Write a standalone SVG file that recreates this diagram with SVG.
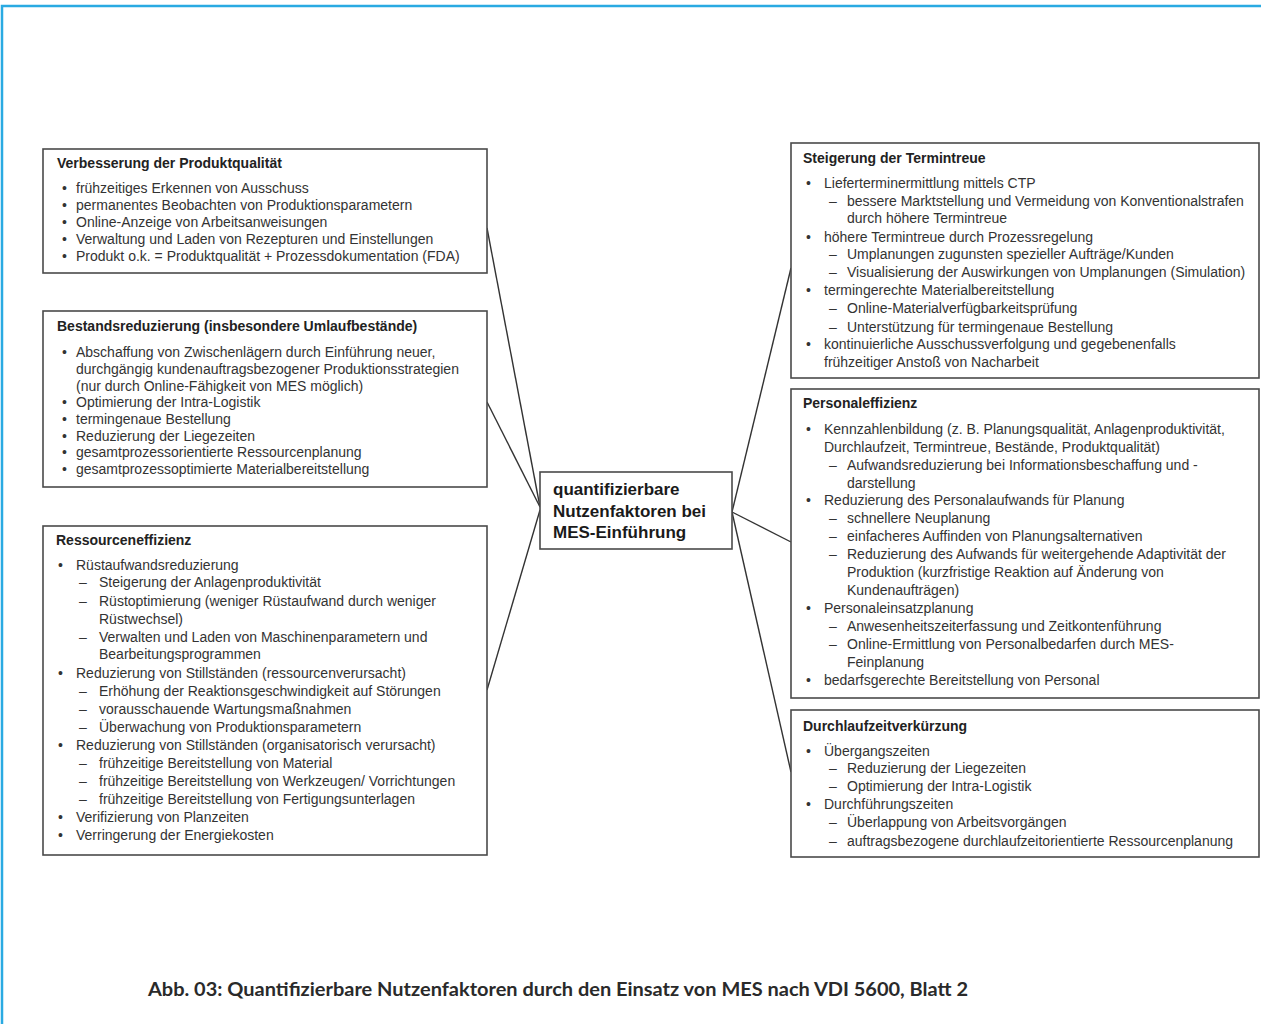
<svg xmlns="http://www.w3.org/2000/svg" width="1261" height="1024" viewBox="0 0 1261 1024">
  <style>
    .box { fill: #ffffff; stroke: #4a4a4a; stroke-width: 1.6; }
    .hd { font-family: "Liberation Sans", Arial, sans-serif; font-size: 14px; font-weight: bold; fill: #222222; }
    .t { font-family: "Liberation Sans", Arial, sans-serif; font-size: 14px; fill: #333333; }
    .ctr { font-family: "Liberation Sans", Arial, sans-serif; font-size: 17px; font-weight: bold; fill: #1a1a1a; }
    .cap { font-family: Lato, "Open Sans", sans-serif; font-size: 18px; font-weight: bold; fill: #2a2a2a; }
    .conn line { stroke: #333333; stroke-width: 1.4; }
  </style>

  <rect width="1261" height="1024" fill="#ffffff"/>
  <!-- page frame -->
  <path d="M2 1024 V6 H1261" fill="none" stroke="#2aaae2" stroke-width="2.5"/>

  <!-- connectors -->
  <g id="connectors" class="conn">
    <line x1="487" y1="228" x2="540" y2="507"/>
    <line x1="487" y1="402" x2="540" y2="507"/>
    <line x1="487" y1="690" x2="540" y2="510"/>
    <line x1="791" y1="268" x2="732" y2="512"/>
    <line x1="791" y1="542" x2="732" y2="512"/>
    <line x1="791" y1="772" x2="732" y2="512"/>
  </g>

  <!-- central node -->
  <g id="center">
    <rect class="box" x="540" y="472" width="192" height="77"/>
    <text class="ctr" x="553" y="495">quantifizierbare</text>
    <text class="ctr" x="553" y="517">Nutzenfaktoren bei</text>
    <text class="ctr" x="553" y="538">MES-Einführung</text>
  </g>

  <!-- left column -->
  <g id="produktqualitaet">
    <rect class="box" x="43" y="149" width="444" height="124"/>
    <text class="hd" x="57" y="168">Verbesserung der Produktqualität</text>
    <text class="t" x="62" y="193">•</text><text class="t" x="76" y="193">frühzeitiges Erkennen von Ausschuss</text>
    <text class="t" x="62" y="210">•</text><text class="t" x="76" y="210">permanentes Beobachten von Produktionsparametern</text>
    <text class="t" x="62" y="227">•</text><text class="t" x="76" y="227">Online-Anzeige von Arbeitsanweisungen</text>
    <text class="t" x="62" y="244">•</text><text class="t" x="76" y="244">Verwaltung und Laden von Rezepturen und Einstellungen</text>
    <text class="t" x="62" y="261">•</text><text class="t" x="76" y="261">Produkt o.k. = Produktqualität + Prozessdokumentation (FDA)</text>
  </g>

  <g id="bestandsreduzierung">
    <rect class="box" x="43" y="311" width="444" height="176"/>
    <text class="hd" x="57" y="331">Bestandsreduzierung (insbesondere Umlaufbestände)</text>
    <text class="t" x="62" y="357">•</text><text class="t" x="76" y="357">Abschaffung von Zwischenlägern durch Einführung neuer,</text>
    <text class="t" x="76" y="374">durchgängig kundenauftragsbezogener Produktionsstrategien</text>
    <text class="t" x="76" y="391">(nur durch Online-Fähigkeit von MES möglich)</text>
    <text class="t" x="62" y="407">•</text><text class="t" x="76" y="407">Optimierung der Intra-Logistik</text>
    <text class="t" x="62" y="424">•</text><text class="t" x="76" y="424">termingenaue Bestellung</text>
    <text class="t" x="62" y="441">•</text><text class="t" x="76" y="441">Reduzierung der Liegezeiten</text>
    <text class="t" x="62" y="457">•</text><text class="t" x="76" y="457">gesamtprozessorientierte Ressourcenplanung</text>
    <text class="t" x="62" y="474">•</text><text class="t" x="76" y="474">gesamtprozessoptimierte Materialbereitstellung</text>
  </g>

  <g id="ressourceneffizienz">
    <rect class="box" x="43" y="526" width="444" height="329"/>
    <text class="hd" x="56" y="545">Ressourceneffizienz</text>
    <text class="t" x="58" y="570">•</text><text class="t" x="76" y="570">Rüstaufwandsreduzierung</text>
    <text class="t" x="79" y="587">–</text><text class="t" x="99" y="587">Steigerung der Anlagenproduktivität</text>
    <text class="t" x="79" y="606">–</text><text class="t" x="99" y="606">Rüstoptimierung (weniger Rüstaufwand durch weniger</text>
    <text class="t" x="99" y="624">Rüstwechsel)</text>
    <text class="t" x="79" y="642">–</text><text class="t" x="99" y="642">Verwalten und Laden von Maschinenparametern und</text>
    <text class="t" x="99" y="659">Bearbeitungsprogrammen</text>
    <text class="t" x="58" y="678">•</text><text class="t" x="76" y="678">Reduzierung von Stillständen (ressourcenverursacht)</text>
    <text class="t" x="79" y="696">–</text><text class="t" x="99" y="696">Erhöhung der Reaktionsgeschwindigkeit auf Störungen</text>
    <text class="t" x="79" y="714">–</text><text class="t" x="99" y="714">vorausschauende Wartungsmaßnahmen</text>
    <text class="t" x="79" y="732">–</text><text class="t" x="99" y="732">Überwachung von Produktionsparametern</text>
    <text class="t" x="58" y="750">•</text><text class="t" x="76" y="750">Reduzierung von Stillständen (organisatorisch verursacht)</text>
    <text class="t" x="79" y="768">–</text><text class="t" x="99" y="768">frühzeitige Bereitstellung von Material</text>
    <text class="t" x="79" y="786">–</text><text class="t" x="99" y="786">frühzeitige Bereitstellung von Werkzeugen/ Vorrichtungen</text>
    <text class="t" x="79" y="804">–</text><text class="t" x="99" y="804">frühzeitige Bereitstellung von Fertigungsunterlagen</text>
    <text class="t" x="58" y="822">•</text><text class="t" x="76" y="822">Verifizierung von Planzeiten</text>
    <text class="t" x="58" y="840">•</text><text class="t" x="76" y="840">Verringerung der Energiekosten</text>
  </g>

  <!-- right column -->
  <g id="termintreue">
    <rect class="box" x="791" y="143" width="468" height="235"/>
    <text class="hd" x="803" y="163">Steigerung der Termintreue</text>
    <text class="t" x="806" y="188">•</text><text class="t" x="824" y="188">Lieferterminermittlung mittels CTP</text>
    <text class="t" x="829" y="206">–</text><text class="t" x="847" y="206">bessere Marktstellung und Vermeidung von Konventionalstrafen</text>
    <text class="t" x="847" y="223">durch höhere Termintreue</text>
    <text class="t" x="806" y="242">•</text><text class="t" x="824" y="242">höhere Termintreue durch Prozessregelung</text>
    <text class="t" x="829" y="259">–</text><text class="t" x="847" y="259">Umplanungen zugunsten spezieller Aufträge/Kunden</text>
    <text class="t" x="829" y="277">–</text><text class="t" x="847" y="277">Visualisierung der Auswirkungen von Umplanungen (Simulation)</text>
    <text class="t" x="806" y="295">•</text><text class="t" x="824" y="295">termingerechte Materialbereitstellung</text>
    <text class="t" x="829" y="313">–</text><text class="t" x="847" y="313">Online-Materialverfügbarkeitsprüfung</text>
    <text class="t" x="829" y="332">–</text><text class="t" x="847" y="332">Unterstützung für termingenaue Bestellung</text>
    <text class="t" x="806" y="349">•</text><text class="t" x="824" y="349">kontinuierliche Ausschussverfolgung und gegebenenfalls</text>
    <text class="t" x="824" y="367">frühzeitiger Anstoß von Nacharbeit</text>
  </g>

  <g id="personaleffizienz">
    <rect class="box" x="791" y="389" width="468" height="309"/>
    <text class="hd" x="803" y="408">Personaleffizienz</text>
    <text class="t" x="806" y="434">•</text><text class="t" x="824" y="434">Kennzahlenbildung (z. B. Planungsqualität, Anlagenproduktivität,</text>
    <text class="t" x="824" y="452">Durchlaufzeit, Termintreue, Bestände, Produktqualität)</text>
    <text class="t" x="829" y="470">–</text><text class="t" x="847" y="470">Aufwandsreduzierung bei Informationsbeschaffung und -</text>
    <text class="t" x="847" y="488">darstellung</text>
    <text class="t" x="806" y="505">•</text><text class="t" x="824" y="505">Reduzierung des Personalaufwands für Planung</text>
    <text class="t" x="829" y="523">–</text><text class="t" x="847" y="523">schnellere Neuplanung</text>
    <text class="t" x="829" y="541">–</text><text class="t" x="847" y="541">einfacheres Auffinden von Planungsalternativen</text>
    <text class="t" x="829" y="559">–</text><text class="t" x="847" y="559">Reduzierung des Aufwands für weitergehende Adaptivität der</text>
    <text class="t" x="847" y="577">Produktion (kurzfristige Reaktion auf Änderung von</text>
    <text class="t" x="847" y="595">Kundenaufträgen)</text>
    <text class="t" x="806" y="613">•</text><text class="t" x="824" y="613">Personaleinsatzplanung</text>
    <text class="t" x="829" y="631">–</text><text class="t" x="847" y="631">Anwesenheitszeiterfassung und Zeitkontenführung</text>
    <text class="t" x="829" y="649">–</text><text class="t" x="847" y="649">Online-Ermittlung von Personalbedarfen durch MES-</text>
    <text class="t" x="847" y="667">Feinplanung</text>
    <text class="t" x="806" y="685">•</text><text class="t" x="824" y="685">bedarfsgerechte Bereitstellung von Personal</text>
  </g>

  <g id="durchlaufzeit">
    <rect class="box" x="791" y="710" width="468" height="147"/>
    <text class="hd" x="803" y="731">Durchlaufzeitverkürzung</text>
    <text class="t" x="806" y="756">•</text><text class="t" x="824" y="756">Übergangszeiten</text>
    <text class="t" x="829" y="773">–</text><text class="t" x="847" y="773">Reduzierung der Liegezeiten</text>
    <text class="t" x="829" y="791">–</text><text class="t" x="847" y="791">Optimierung der Intra-Logistik</text>
    <text class="t" x="806" y="809">•</text><text class="t" x="824" y="809">Durchführungszeiten</text>
    <text class="t" x="829" y="827">–</text><text class="t" x="847" y="827">Überlappung von Arbeitsvorgängen</text>
    <text class="t" x="829" y="846">–</text><text class="t" x="847" y="846">auftragsbezogene durchlaufzeitorientierte Ressourcenplanung</text>
  </g>

  <!-- caption -->
  <text class="cap" x="148" y="996" textLength="820" lengthAdjust="spacingAndGlyphs">Abb. 03: Quantifizierbare Nutzenfaktoren durch den Einsatz von MES nach VDI 5600, Blatt 2</text>
</svg>
